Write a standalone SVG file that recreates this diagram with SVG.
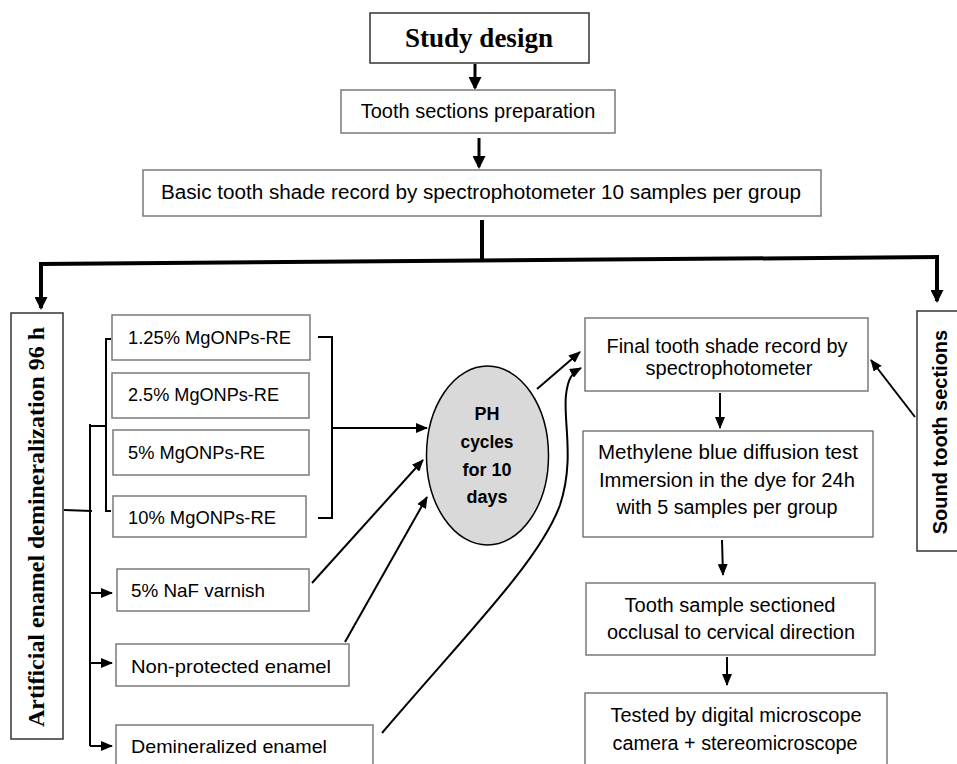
<svg xmlns="http://www.w3.org/2000/svg" width="957" height="764" viewBox="0 0 957 764">
<style>
.box{fill:#fff;stroke:#7a7a7a;stroke-width:1.5}
.dbox{fill:#fff;stroke:#333;stroke-width:1.5}
.t{font-family:"Liberation Sans",Arial,sans-serif;font-size:20px;fill:#000;text-anchor:middle}
.tl{font-family:"Liberation Sans",Arial,sans-serif;font-size:18.5px;fill:#000}
.tb{font-family:"Liberation Sans",Arial,sans-serif;font-weight:bold;fill:#000;text-anchor:middle}
.ts{font-family:"Liberation Serif","Times New Roman",serif;font-weight:bold;fill:#000;text-anchor:middle}
.c{fill:none;stroke:#000;stroke-width:2}
.cb{fill:none;stroke:#000;stroke-width:3}
.ck{fill:none;stroke:#000;stroke-width:4}
</style>
<defs>
<marker id="ah" markerUnits="userSpaceOnUse" markerWidth="13" markerHeight="10" refX="11" refY="5" orient="auto">
<path d="M0,0 L12,5 L0,10 z" fill="#000"/>
</marker>
<marker id="ahb" markerUnits="userSpaceOnUse" markerWidth="14" markerHeight="13" refX="11" refY="6.5" orient="auto">
<path d="M0,0 L13,6.5 L0,13 z" fill="#000"/>
</marker>
</defs>

<g id="connectors">
<path class="cb" d="M475,64 L475,88" marker-end="url(#ahb)"/>
<path class="cb" d="M479,138 L479,167" marker-end="url(#ahb)"/>
<path class="ck" d="M482,220 L482,261"/>
<path class="ck" d="M39,264 L939,257"/>
<path class="ck" d="M41,264 L41,308" marker-end="url(#ahb)"/>
<path class="ck" d="M937,257 L937,301" marker-end="url(#ahb)"/>
<!-- left tree -->
<path class="c" d="M64,510 L92,511"/>
<path class="c" d="M90,424 L90,746"/>
<path class="c" d="M90,426 L106,426"/>
<path class="c" d="M111,339 L106,339 L106,511 L111,511"/>
<path class="c" d="M90,593 L112,593" marker-end="url(#ah)"/>
<path class="c" d="M90,663 L112,663" marker-end="url(#ah)"/>
<path class="c" d="M90,746 L112,746" marker-end="url(#ah)"/>
<!-- right bracket -->
<path class="c" d="M318,337 L332,337 L332,518 L318,518"/>
<path class="c" d="M332,428 L427,428" marker-end="url(#ah)"/>
<path class="c" d="M312,583 L423,460" marker-end="url(#ah)"/>
<path class="c" d="M345,642 L427,497" marker-end="url(#ah)"/>
<path class="c" d="M382,733 C470,630 540,560 560,505 C575,460 563,420 566,395 C568,378 572,373 581,368" marker-end="url(#ah)"/>
<path class="c" d="M537,389 L580,352" marker-end="url(#ah)"/>
<path class="c" d="M915,417 L871,360" marker-end="url(#ah)"/>
<path class="c" d="M720,393 L720,428" marker-end="url(#ah)"/>
<path class="c" d="M722,540 L723,575" marker-end="url(#ah)"/>
<path class="c" d="M727,657 L727,685" marker-end="url(#ah)"/>
</g>

<g id="study-design">
<rect class="dbox" x="370" y="13" width="219" height="50"/>
<text class="ts" x="479" y="47" font-size="27">Study design</text>
</g>
<g id="tooth-prep">
<rect class="box" x="341" y="90" width="274" height="43"/>
<text class="t" x="478" y="118">Tooth sections preparation</text>
</g>
<g id="basic-shade">
<rect class="box" x="143" y="170" width="678" height="46"/>
<text class="t" x="481" y="199" textLength="640" lengthAdjust="spacingAndGlyphs">Basic tooth shade record by spectrophotometer 10 samples per group</text>
</g>
<g id="artificial">
<rect class="dbox" x="11" y="313" width="52" height="426"/>
<text class="ts" transform="translate(44,527) rotate(-90)" font-size="24" textLength="400" lengthAdjust="spacingAndGlyphs">Artificial enamel demineralization 96 h</text>
</g>
<g id="sound">
<rect class="dbox" x="917" y="311" width="50" height="240"/>
<text class="tb" transform="translate(947,432) rotate(-90)" font-size="20">Sound tooth sections</text>
</g>
<g id="mg125">
<rect class="box" x="112" y="315" width="198" height="45"/>
<text class="tl" x="128" y="344" textLength="163" lengthAdjust="spacingAndGlyphs">1.25% MgONPs-RE</text>
</g>
<g id="mg25">
<rect class="box" x="112" y="373" width="197" height="45"/>
<text class="tl" x="128" y="401" textLength="151" lengthAdjust="spacingAndGlyphs">2.5% MgONPs-RE</text>
</g>
<g id="mg5">
<rect class="box" x="113" y="430" width="196" height="45"/>
<text class="tl" x="128" y="459" textLength="137" lengthAdjust="spacingAndGlyphs">5% MgONPs-RE</text>
</g>
<g id="mg10">
<rect class="box" x="113" y="496" width="193" height="41"/>
<text class="tl" x="128" y="524" textLength="148" lengthAdjust="spacingAndGlyphs">10% MgONPs-RE</text>
</g>
<g id="naf">
<rect class="box" x="117" y="569" width="192" height="42"/>
<text class="tl" x="131" y="597" textLength="134" lengthAdjust="spacingAndGlyphs">5% NaF varnish</text>
</g>
<g id="nonprot">
<rect class="box" x="116" y="644" width="233" height="42"/>
<text class="tl" x="131" y="673" textLength="200" lengthAdjust="spacingAndGlyphs">Non-protected enamel</text>
</g>
<g id="demin">
<rect class="box" x="116" y="725" width="257" height="50"/>
<text class="tl" x="131" y="753" textLength="196" lengthAdjust="spacingAndGlyphs">Demineralized enamel</text>
</g>
<g id="ph">
<ellipse cx="487.5" cy="455.5" rx="61" ry="89.5" fill="#d9d9d9" stroke="#000" stroke-width="1.5"/>
<text class="tb" font-size="18" x="487" y="420">PH</text>
<text class="tb" font-size="18" x="487" y="448" textLength="53" lengthAdjust="spacingAndGlyphs">cycles</text>
<text class="tb" font-size="18" x="487" y="476">for 10</text>
<text class="tb" font-size="18" x="487" y="503">days</text>
</g>
<g id="final">
<rect class="box" x="585" y="318" width="283" height="73"/>
<text class="t" x="727" y="353" textLength="241" lengthAdjust="spacingAndGlyphs">Final tooth shade record by</text>
<text class="t" x="729" y="375">spectrophotometer</text>
</g>
<g id="methylene">
<rect class="box" x="583" y="431" width="290" height="106"/>
<text class="t" x="728" y="459" textLength="260" lengthAdjust="spacingAndGlyphs">Methylene blue diffusion test</text>
<text class="t" x="727" y="487" textLength="256" lengthAdjust="spacingAndGlyphs">Immersion in the dye for 24h</text>
<text class="t" x="727" y="514" textLength="221" lengthAdjust="spacingAndGlyphs">with 5 samples per group</text>
</g>
<g id="sectioned">
<rect class="box" x="586" y="583" width="289" height="72"/>
<text class="t" x="730" y="612" textLength="211" lengthAdjust="spacingAndGlyphs">Tooth sample sectioned</text>
<text class="t" x="731" y="639" textLength="248" lengthAdjust="spacingAndGlyphs">occlusal to cervical direction</text>
</g>
<g id="tested">
<rect class="box" x="585" y="693" width="302" height="80"/>
<text class="t" x="736" y="722" textLength="251" lengthAdjust="spacingAndGlyphs">Tested by digital microscope</text>
<text class="t" x="735" y="750" textLength="245" lengthAdjust="spacingAndGlyphs">camera + stereomicroscope</text>
</g>
</svg>
